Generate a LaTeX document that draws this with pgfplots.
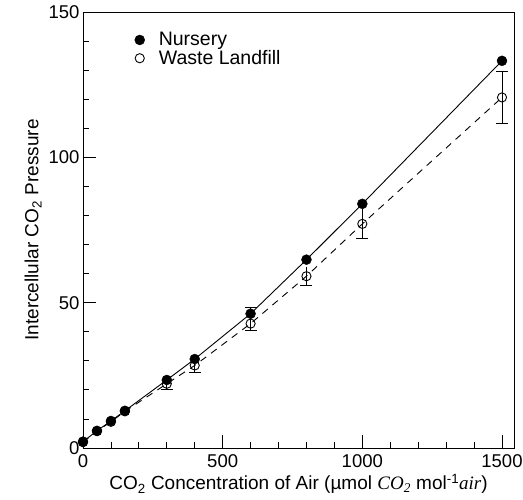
\documentclass[border=0pt]{standalone}
\usepackage{fontspec}
\setmainfont{Liberation Sans}
\newfontfamily\serifit{Liberation Serif}
\usepackage{pgfplots}
\pgfplotsset{compat=1.18}
\pgfplotsset{mylegend/.style={legend image code/.code={\pgfpathrectangle{\pgfpoint{-0.2cm}{-0.1cm}}{\pgfpoint{0.8cm}{0.2cm}}\pgfusepath{use as bounding box}\draw[##1] plot coordinates {(0cm,0cm)};}}}
\begin{document}
\begin{tikzpicture}
\begin{axis}[
  name=ax,
  axis on top,
  scale only axis,
  width=431pt, height=436pt,
  xmin=0, xmax=1543, ymin=0, ymax=150,
  xtick={0,500,1000,1500},
  ytick={0,50,100,150},
  minor xtick={100,200,...,1500},
  minor ytick={10,20,...,150},
  xtick pos=bottom, ytick pos=left,
  xtick align=inside, ytick align=inside,
  every major tick/.append style={major tick length=13pt, black, line width=0.8pt},
  every minor tick/.append style={minor tick length=6pt, black, line width=0.8pt},
  axis line style={line width=0.8pt},
  /pgf/number format/assume math mode=true,
  /pgf/number format/1000 sep={},
  tick label style={font=\fontsize{18.5}{20}\selectfont},
  xticklabel style={yshift=-3pt},
  label style={font=\fontsize{19}{22}\selectfont},
  xlabel={CO\textsubscript{2} Concentration of Air (µmol {\serifit\itshape CO\textsubscript{2}} mol\textsuperscript{-1}{\serifit\itshape air})},
  ylabel={Intercellular CO\textsubscript{2} Pressure},
  unbounded coords=jump,
  legend style={at={(0.118,0.958)}, anchor=north west, draw=none, fill=none,
    font=\fontsize{19.5}{21}\selectfont, row sep=-1pt, inner sep=0pt},
  legend cell align=left,
  reverse legend,
]
% dashed line (waste landfill)
\addplot[black, line width=0.9pt, dash pattern=on 7pt off 6pt, forget plot] coordinates {
(0,2.0) (50,5.8) (100,9.0) (150,12.6) (300,22.1) (400,28.4) (600,42.8) (800,59.1) (1000,77.1) (1500,120.6)};
% solid line (nursery)
\addplot[black, solid, line width=0.9pt, forget plot] coordinates {
(0,2.2) (50,5.9) (100,9.3) (150,12.8) (300,23.4) (400,30.6) (600,46.2) (800,64.8) (1000,84.0) (1500,133.2)};
% waste landfill error bars (low, high)
\addplot[black, solid, line width=0.8pt, forget plot] coordinates {
(300,20.2) (300,24.0) (300,nan)
(400,26.0) (400,30.8) (400,nan)
(600,40.3) (600,45.3) (600,nan)
(800,55.9) (800,62.3) (800,nan)
(1000,72.1) (1000,82.1) (1000,nan)
(1500,111.8) (1500,129.4)};
\addplot[only marks, mark=-, mark size=6pt, mark options={solid, black, line width=0.8pt}, forget plot] coordinates {
(300,20.2) (400,26.0) (600,40.3) (800,55.9) (1000,72.1) (1500,111.8) (1500,129.4)};
% waste landfill
\addplot[only marks, mark=o, mark size=4.6pt, mark options={solid, fill=white, draw=black, line width=0.9pt},
  mylegend]
coordinates {
(0,2.0) (50,5.8) (100,9.0) (150,12.6) (300,22.1) (400,28.4) (600,42.8) (800,59.1) (1000,77.1) (1500,120.6)};
\addlegendentry{Waste Landfill}
% nursery error bars
\addplot[black, solid, line width=0.8pt, forget plot] coordinates {(600,43.9) (600,48.5)};
\addplot[only marks, mark=-, mark size=6pt, mark options={solid, black, line width=0.8pt}, forget plot] coordinates {(600,48.5)};
% nursery
\addplot[only marks, mark=*, mark size=5pt, mark options={solid, fill=black, draw=black},
  mylegend]
coordinates {
(0,2.2) (50,5.9) (100,9.3) (150,12.8) (300,23.4) (400,30.6) (600,46.2) (800,64.8) (1000,84.0) (1500,133.2)};
\addlegendentry{Nursery}
\end{axis}
\pgfresetboundingbox
\path[use as bounding box] ([xshift=-83pt,yshift=-52pt]ax.south west) rectangle ([xshift=9pt,yshift=12pt]ax.north east);
\end{tikzpicture}
\end{document}
